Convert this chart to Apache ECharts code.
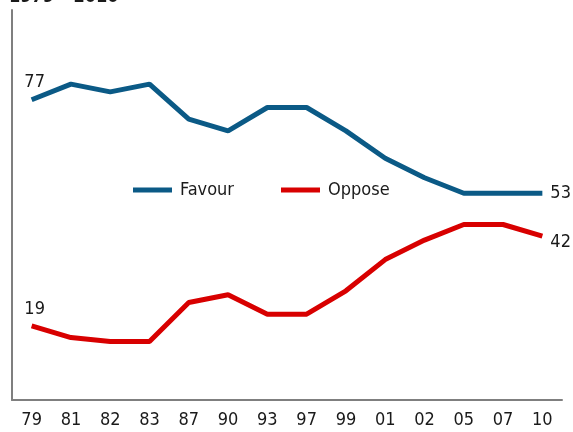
<!DOCTYPE html>
<html>
<head>
<meta charset="utf-8">
<script src="https://cdn.jsdelivr.net/npm/echarts@6/dist/echarts.min.js"></script>
<style>
  html, body { margin: 0; padding: 0; background: #fff; }
  #chart { width: 573px; height: 432px; }
</style>
</head>
<body>
<div id="chart"></div>
<script>
// Survey years and share of respondents (%)
const years = ['79', '81', '82', '83', '87', '90', '93', '97', '99', '01', '02', '05', '07', '10'];
const favour = [77, 81, 79, 81, 72, 69, 75, 75, 69, 62, 57, 53, 53, 53];
const oppose = [19, 16, 15, 15, 25, 27, 22, 22, 28, 36, 41, 45, 45, 42];

const FONT = '"Liberation Sans Narrow", "DejaVu Sans Condensed", sans-serif';
const BLUE = '#0b5a86';
const RED = '#d80000';

// Label only the first and last value of each series
function withEndLabels(values, firstPos, lastPos) {
  return values.map((v, i) => {
    if (i === 0) return { value: v, label: Object.assign({ show: true }, firstPos) };
    if (i === values.length - 1) return { value: v, label: Object.assign({ show: true }, lastPos) };
    return v;
  });
}

const labelStyle = { color: '#1a1a1a', fontSize: 18, fontFamily: FONT };
const legendText = { fontSize: 18, color: '#1a1a1a', fontFamily: FONT, padding: [0, 0, 0, 3] };

const chart = echarts.init(document.getElementById('chart'), null, { renderer: 'canvas' });
chart.setOption({
  animation: false,
  backgroundColor: '#fff',
  title: {
    text: '1979 – 2010',
    left: 4,
    top: -17,
    textStyle: { fontSize: 18, fontWeight: 'bold', color: '#1a1a1a', fontFamily: FONT }
  },
  grid: { left: 12, right: 11, top: 10, bottom: 32, containLabel: false },
  legend: [
    {
      left: 133, top: 181, padding: 0,
      itemWidth: 39, itemHeight: 5, icon: 'rect',
      textStyle: legendText,
      data: ['Favour']
    },
    {
      left: 281, top: 181, padding: 0,
      itemWidth: 39, itemHeight: 5, icon: 'rect',
      textStyle: legendText,
      data: ['Oppose']
    }
  ],
  xAxis: {
    type: 'category',
    data: years,
    boundaryGap: true,
    axisLine: { lineStyle: { color: '#7f7f7f', width: 2 } },
    axisTick: { show: false },
    axisLabel: { color: '#1a1a1a', fontSize: 18, fontFamily: FONT, margin: 11 }
  },
  yAxis: {
    type: 'value',
    min: 0,
    max: 100,
    splitLine: { show: false },
    axisLabel: { show: false },
    axisTick: { show: false },
    axisLine: { show: true, lineStyle: { color: '#7f7f7f', width: 2 } }
  },
  series: [
    {
      name: 'Favour',
      type: 'line',
      data: withEndLabels(favour,
        { position: 'top', offset: [3, -3] },
        { position: 'right', distance: 8 }),
      color: BLUE,
      lineStyle: { color: BLUE, width: 5 },
      symbol: 'circle',
      symbolSize: 0,
      showSymbol: true,
      label: Object.assign({ show: false }, labelStyle)
    },
    {
      name: 'Oppose',
      type: 'line',
      data: withEndLabels(oppose,
        { position: 'top', offset: [3, -3] },
        { position: 'right', distance: 8, offset: [0, 6] }),
      color: RED,
      lineStyle: { color: RED, width: 5 },
      symbol: 'circle',
      symbolSize: 0,
      showSymbol: true,
      label: Object.assign({ show: false }, labelStyle)
    }
  ]
});
</script>
</body>
</html>
